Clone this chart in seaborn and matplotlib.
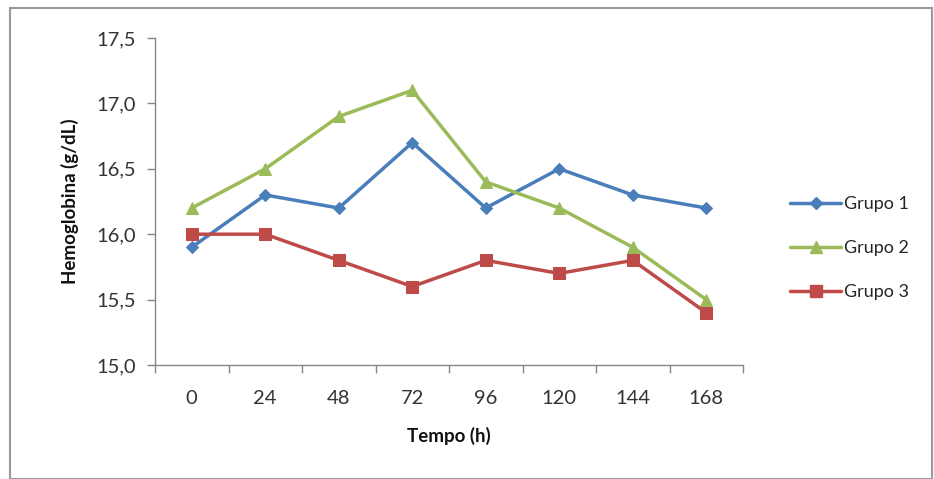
import matplotlib
matplotlib.use("Agg")
import matplotlib.pyplot as plt
import seaborn as sns
import pandas as pd
import numpy as np
from matplotlib.ticker import FixedLocator, FuncFormatter
from matplotlib.patches import Rectangle
from matplotlib.lines import Line2D

tempos = ["0", "24", "48", "72", "96", "120", "144", "168"]
grupo1 = [15.9, 16.3, 16.2, 16.7, 16.2, 16.5, 16.3, 16.2]
grupo2 = [16.2, 16.5, 16.9, 17.1, 16.4, 16.2, 15.9, 15.5]
grupo3 = [16.0, 16.0, 15.8, 15.6, 15.8, 15.7, 15.8, 15.4]
series_names = ["Grupo 1", "Grupo 2", "Grupo 3"]
colors = ["#4a7ebb", "#9bbb59", "#be4b48"]
markers = ["D", "^", "s"]
msizes = [6, 8, 8]

rows = []
for name, vals in zip(series_names, [grupo1, grupo2, grupo3]):
    for i, v in enumerate(vals):
        rows.append({"idx": i, "valor": v, "grupo": name})
df = pd.DataFrame(rows)

sns.set_theme(style="white")
plt.rcParams['font.family'] = ['Lato', 'DejaVu Sans']

fig = plt.figure(figsize=(9.34, 4.79), dpi=100)
ax = fig.add_axes([155/934, 1 - 365/479, (743-155)/934, (365-38)/479])

for name, c, m, ms in zip(series_names, colors, markers, msizes):
    sub = df[df.grupo == name]
    sns.lineplot(data=sub, x="idx", y="valor", ax=ax, color=c, marker=m,
                 markersize=ms, markeredgecolor=c, linewidth=2.5, label=name,
                 legend=False)

ax.set_xlim(-0.5, 7.5)
ax.set_ylim(15.0, 17.5)
ax.set_yticks(np.arange(15.0, 17.51, 0.5))
ax.yaxis.set_major_formatter(FuncFormatter(lambda v, p: f"{v:.1f}".replace(".", ",")))

ax.xaxis.set_major_locator(FixedLocator(np.arange(-0.5, 8, 1)))
ax.xaxis.set_major_formatter(FuncFormatter(lambda v, p: ""))
ax.xaxis.set_minor_locator(FixedLocator(np.arange(0, 8)))
ax.set_xticks(np.arange(0, 8), labels=tempos, minor=True)
ax.tick_params(axis="x", which="major", length=6, width=1, color="#868686", direction="out", bottom=True)
ax.tick_params(axis="x", which="minor", length=0, labelsize=14.5, pad=18, labelcolor="#333333")
ax.tick_params(axis="y", which="major", length=6, width=1, color="#868686", direction="out", left=True,
               labelsize=14.5, pad=8, labelcolor="#333333")

for s in ["top", "right"]:
    ax.spines[s].set_visible(False)
for s in ["left", "bottom"]:
    ax.spines[s].set_color("#868686")
    ax.spines[s].set_linewidth(1)

ax.set_xlabel("Tempo (h)", fontsize=13.5, fontweight="bold", labelpad=14, color="#111111")
ax.set_ylabel("Hemoglobina (g/dL)", fontsize=13.5, fontweight="bold", labelpad=12, color="#111111")

handles = [Line2D([0], [0], color=c, marker=m, markersize=ms, linewidth=2.5, markeredgecolor=c)
           for c, m, ms in zip(colors, markers, msizes)]
fig.legend(handles, series_names, loc="center left", bbox_to_anchor=(774/934, 1 - 248/479),
           frameon=False, fontsize=13, handlelength=2.8, labelspacing=1.55, handletextpad=0.2)

fig.patches.append(Rectangle((10/934, 0), 1 - 12/934, 1 - 8/479, transform=fig.transFigure,
                             fill=False, edgecolor="#9a9a9a", linewidth=1.5))

fig.savefig("out.png", dpi=100)
